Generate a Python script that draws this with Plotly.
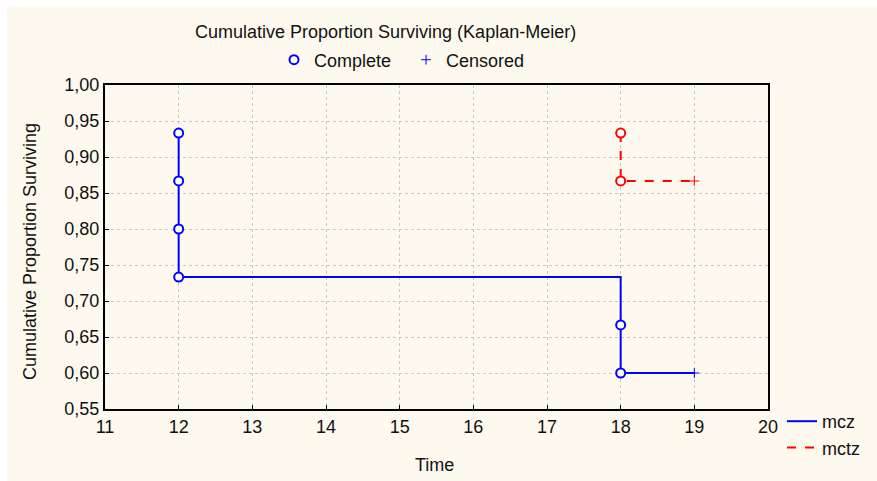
import plotly.graph_objects as go

# data
mcz_time = [12, 12, 12, 12, 18, 18]
mcz_surv = [0.9333, 0.8667, 0.8000, 0.7333, 0.6667, 0.6000]
mcz_cens_time = [19]
mcz_cens_surv = [0.6000]

mctz_time = [18, 18]
mctz_surv = [0.9333, 0.8667]
mctz_cens_time = [19]
mctz_cens_surv = [0.8667]

x_ticks = list(range(11, 21))
y_ticks = [0.55, 0.60, 0.65, 0.70, 0.75, 0.80, 0.85, 0.90, 0.95, 1.00]

FONT = "Liberation Sans, Arial, sans-serif"
FS = 18
BLUE = "#0000FF"
RED = "#FF0000"

fig = go.Figure()

# step lines
fig.add_trace(go.Scatter(x=mcz_time + mcz_cens_time, y=mcz_surv + mcz_cens_surv,
                         mode="lines", line=dict(color=BLUE, width=2, shape="hv"),
                         name="mcz", legend="legend2"))
fig.add_trace(go.Scatter(x=mctz_time + mctz_cens_time, y=mctz_surv + mctz_cens_surv,
                         mode="lines", line=dict(color=RED, width=2, shape="hv", dash="dash"),
                         name="mctz", legend="legend2"))

# complete markers
for t, s, c in [(mcz_time, mcz_surv, BLUE), (mctz_time, mctz_surv, RED)]:
    fig.add_trace(go.Scatter(x=t, y=s, mode="markers", showlegend=False,
                             marker=dict(symbol="circle", size=9, color="white",
                                         line=dict(color=c, width=2))))
# censored markers
for t, s, c in [(mcz_cens_time, mcz_cens_surv, BLUE), (mctz_cens_time, mctz_cens_surv, RED)]:
    fig.add_trace(go.Scatter(x=t, y=s, mode="markers", showlegend=False,
                             marker=dict(symbol="cross-thin-open", size=7, color=c,
                                         line=dict(color=c, width=1))))

# legend entries for top legend
fig.add_trace(go.Scatter(x=[None], y=[None], mode="markers", name="Complete  ",
                         marker=dict(symbol="circle", size=9, color="white",
                                     line=dict(color=BLUE, width=2)), legend="legend"))
fig.add_trace(go.Scatter(x=[None], y=[None], mode="markers", name="Censored",
                         marker=dict(symbol="cross-thin-open", size=7, color=BLUE,
                                     line=dict(color=BLUE, width=1)), legend="legend"))

L, R, T, B = 105, 109, 85, 72
W, H = 877, 481
pw, ph = W - L - R, H - T - B

def px(x):
    return (x - L) / pw

def py(y):
    return (H - B - y) / ph

fig.add_shape(type="rect", xref="paper", yref="paper",
              x0=px(7), x1=px(W + 5), y0=py(H + 5), y1=py(7),
              fillcolor="#FEF9EF", line=dict(width=0), layer="below")

fig.update_layout(
    width=W, height=H,
    margin=dict(l=L, r=R, t=T, b=B),
    paper_bgcolor="white", plot_bgcolor="white",
    separators=",.",
    font=dict(family=FONT, size=FS, color="#111111"),
    legend=dict(orientation="h", x=px(402), xanchor="center", y=py(60), yanchor="middle",
                bgcolor="rgba(0,0,0,0)", font=dict(size=FS), itemwidth=30),
    legend2=dict(x=px(782), xanchor="left", y=py(403), yanchor="top",
                 bgcolor="rgba(0,0,0,0)", font=dict(size=FS), tracegroupgap=0),
    annotations=[
        dict(text="Cumulative Proportion Surviving (Kaplan-Meier)", xref="paper", yref="paper",
             x=px(385), y=py(32), xanchor="center", yanchor="middle", showarrow=False,
             font=dict(size=FS)),
        dict(text="Time", xref="paper", yref="paper", x=px(434), y=py(465),
             xanchor="center", yanchor="middle", showarrow=False, font=dict(size=FS)),
        dict(text="Cumulative Proportion Surviving", xref="paper", yref="paper",
             x=px(30), y=py(252), xanchor="center", yanchor="middle", showarrow=False,
             textangle=-90, font=dict(size=FS)),
    ],
)

fig.update_xaxes(range=[11, 20], tickvals=x_ticks, ticks="inside", ticklen=4,
                 tickcolor="black", showline=True, linecolor="black", linewidth=2,
                 mirror=True, showgrid=True, gridcolor="#C8C8C8", griddash="dot",
                 gridwidth=1, zeroline=False, tickfont=dict(size=FS))
fig.update_yaxes(range=[0.55, 1.00], tickvals=y_ticks, tickformat=".2f", ticks="inside",
                 ticklen=4, tickcolor="black", showline=True, linecolor="black", linewidth=2,
                 mirror=True, showgrid=True, gridcolor="#C8C8C8", griddash="dot",
                 gridwidth=1, zeroline=False, tickfont=dict(size=FS))

fig.write_html("out.html")
